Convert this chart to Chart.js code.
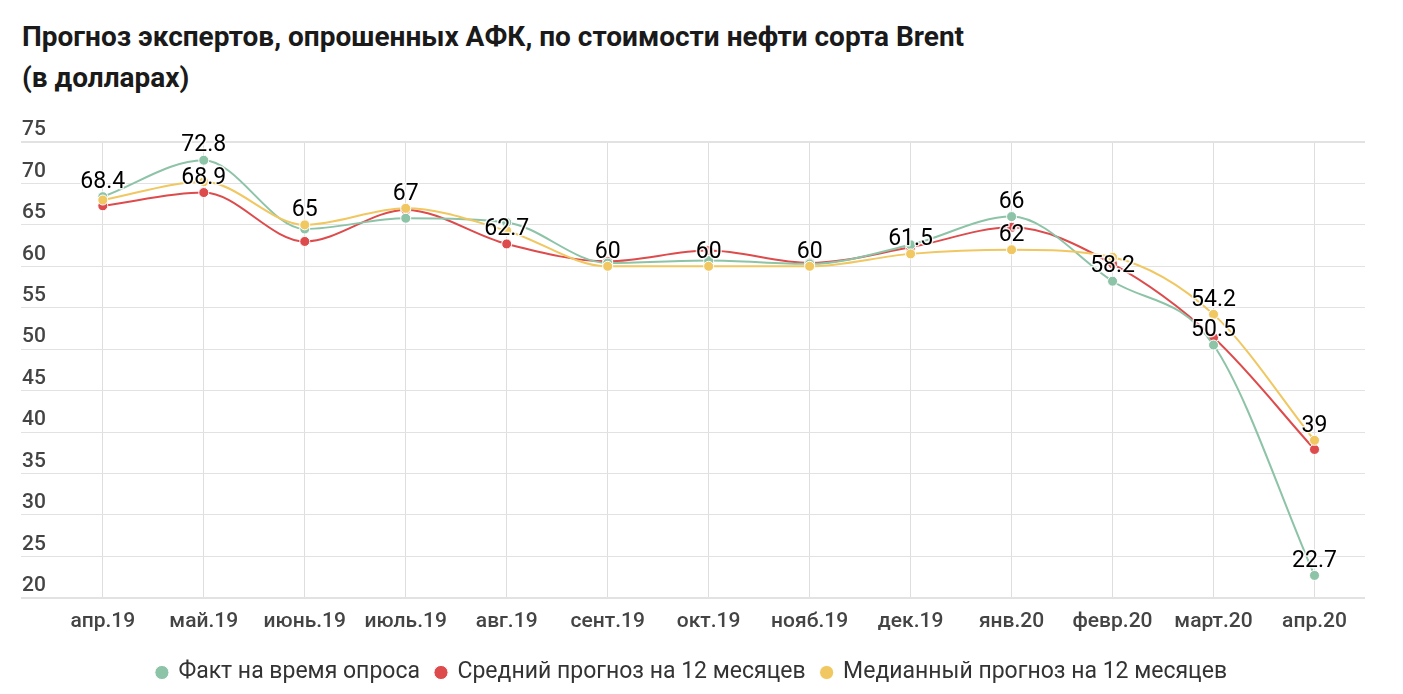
<!DOCTYPE html>
<html lang="ru">
<head>
<meta charset="utf-8">
<script src="https://cdn.jsdelivr.net/npm/chart.js@4"></script>
<style>
  html, body { margin: 0; padding: 0; background: #fff; }
  #wrap { position: relative; width: 1403px; height: 694px; }
  #title {
    position: absolute; left: 22px; top: 16px;
    font: bold 28px Roboto, sans-serif; line-height: 41px; color: #1a1a1a;
  }
  canvas { position: absolute; left: 0; top: 0; }
</style>
</head>
<body>
<div id="wrap">
  <div id="title">Прогноз экспертов, опрошенных АФК, по стоимости нефти сорта Brent<br>(в долларах)</div>
  <canvas id="chart" width="1403" height="694"></canvas>
</div>
<script>
const months = ["апр.19", "май.19", "июнь.19", "июль.19", "авг.19", "сент.19", "окт.19",
  "нояб.19", "дек.19", "янв.20", "февр.20", "март.20", "апр.20"];

const factValues = [68.4, 72.8, 64.5, 65.8, 65.3, 60.4, 60.7, 60.3, 62.6, 66, 58.2, 50.5, 22.7];
const meanForecast = [67.3, 68.9, 63.0, 66.8, 62.7, 60.6, 61.9, 60.4, 62.3, 64.7, 60.3, 51.4, 37.9];
const medianForecast = [68.0, 70.2, 65, 67, 64.3, 60, 60, 60, 61.5, 62, 61.1, 54.2, 39];

const yTicks = [20, 25, 30, 35, 40, 45, 50, 55, 60, 65, 70, 75];

// which series get a value label at each month (0 fact, 1 mean, 2 median)
const labelledSeries = [[0], [0, 1], [2], [2], [1], [2], [2], [2], [2], [0, 2], [0], [2, 0], [2, 0]];

const seriesNames = ["Факт на время опроса", "Средний прогноз на 12 месяцев", "Медианный прогноз на 12 месяцев"];
const seriesColors = ["#8dc3a6", "#dd4b4c", "#f0c761"];
const drawOrder = [1, 2, 0];

const toPoints = (arr) => arr.map((v, i) => ({ x: i, y: v }));

const valueLabels = {
  id: "valueLabels",
  afterDatasetsDraw(chart) {
    const ctx = chart.ctx;
    ctx.save();
    ctx.font = "23px Roboto, sans-serif";
    ctx.textAlign = "center";
    ctx.textBaseline = "bottom";
    ctx.lineJoin = "round";
    labelledSeries.forEach((list, i) => {
      list.forEach((ds) => {
        const pt = chart.getDatasetMeta(ds).data[i];
        const text = String(chart.data.datasets[ds].data[i].y);
        ctx.strokeStyle = "rgba(255,255,255,0.8)";
        ctx.lineWidth = 3;
        ctx.strokeText(text, pt.x, pt.y - 3);
        ctx.fillStyle = "#000";
        ctx.fillText(text, pt.x, pt.y - 3);
      });
    });
    ctx.restore();
  },
};

const chart = new Chart(document.getElementById("chart").getContext("2d"), {
  type: "line",
  data: {
    datasets: [factValues, meanForecast, medianForecast].map((vals, k) => ({
      label: seriesNames[k],
      data: toPoints(vals),
      order: drawOrder[k],
      borderColor: seriesColors[k],
      backgroundColor: seriesColors[k],
      borderWidth: 2,
      cubicInterpolationMode: "monotone",
      pointRadius: 5,
      pointBorderColor: "#fff",
      pointBorderWidth: 1,
      fill: false,
    })),
  },
  options: {
    responsive: false,
    animation: false,
    layout: { padding: { left: 19, right: 38, top: 142, bottom: 0 } },
    scales: {
      x: {
        type: "linear",
        min: -0.81,
        max: 12.5,
        border: { display: false },
        grid: { color: "#dedede", lineWidth: 1, drawTicks: false },
        ticks: {
          stepSize: 1,
          includeBounds: false,
          autoSkip: false,
          maxRotation: 0,
          padding: 11,
          color: "#444",
          font: { family: "Roboto", size: 21, weight: "500" },
          callback: (v) => months[v] ?? "",
        },
      },
      y: {
        min: yTicks[0],
        max: yTicks[yTicks.length - 1],
        afterBuildTicks: (axis) => { axis.ticks = yTicks.map((v) => ({ value: v })); },
        border: { display: false },
        grid: {
          color: "#e2e2e2",
          drawTicks: false,
          lineWidth: (c) => (c.tick && (c.tick.value === 20 || c.tick.value === 75) ? 2 : 1),
        },
        ticks: {
          mirror: true,
          padding: 1,
          labelOffset: -12,
          color: "#444",
          font: { family: "Roboto", size: 21, weight: "500" },
        },
      },
    },
    plugins: {
      legend: {
        position: "bottom",
        labels: {
          usePointStyle: true,
          pointStyle: "circle",
          boxWidth: 10,
          boxHeight: 10,
          padding: 16,
          color: "#333",
          font: { family: "Roboto", size: 23 },
          sort: (a, b) => a.datasetIndex - b.datasetIndex,
        },
      },
      tooltip: { enabled: false },
    },
  },
  plugins: [valueLabels],
});
</script>
</body>
</html>
